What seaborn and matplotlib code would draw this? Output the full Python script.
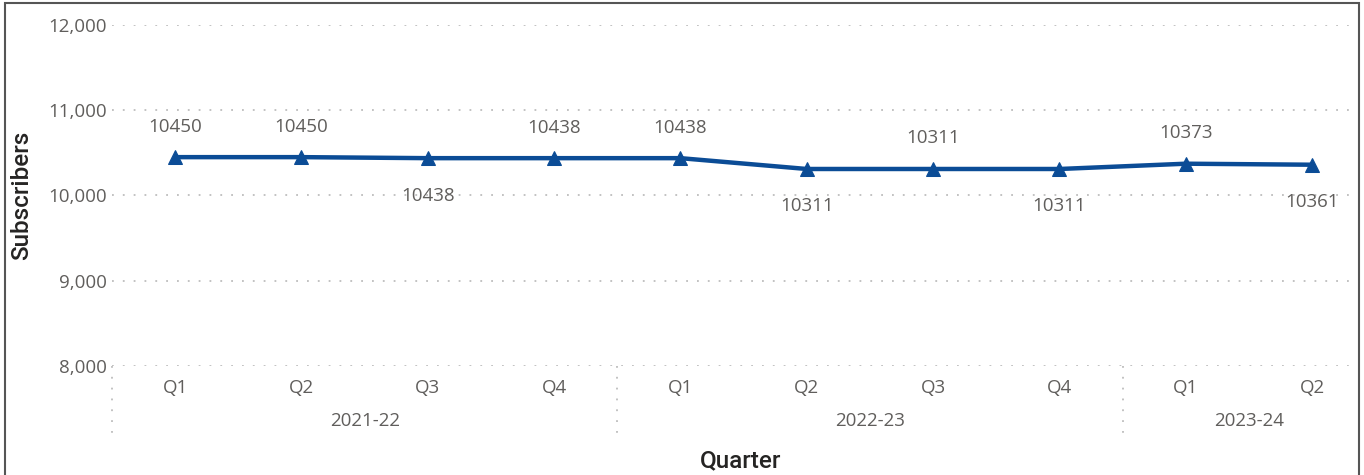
import matplotlib
matplotlib.use("Agg")
import matplotlib.pyplot as plt
import matplotlib.transforms as mtransforms
from matplotlib.patches import Rectangle
from matplotlib.ticker import FuncFormatter
import seaborn as sns
import pandas as pd

# ---- data ----
quarters = ["Q1", "Q2", "Q3", "Q4", "Q1", "Q2", "Q3", "Q4", "Q1", "Q2"]
fiscal_years = ["2021-22"] * 4 + ["2022-23"] * 4 + ["2023-24"] * 2
subscribers = [10450, 10450, 10438, 10438, 10438, 10311, 10311, 10311, 10373, 10361]
label_side = ["above", "above", "below", "above", "above", "below", "above", "below", "above", "below"]
year_labels = ["2021-22", "2022-23", "2023-24"]
y_ticks = [8000, 9000, 10000, 11000, 12000]

df = pd.DataFrame({"pos": range(len(quarters)), "quarter": quarters,
                   "year": fiscal_years, "subs": subscribers})

sns.set_theme(style="white")
plt.rcParams["font.family"] = ["Open Sans", "DejaVu Sans"]

W, H = 1364, 475
fig = plt.figure(figsize=(W / 100, H / 100), dpi=100)
L, R, T, B = 112, 1350, 25, 366
ax = fig.add_axes([L / W, 1 - B / H, (R - L) / W, (B - T) / H])

line_color = "#0B4C96"
text_gray = "#605E5C"
title_col = "#252423"
grid_col = "#BDBDBD"
fs = 13.5

sns.lineplot(data=df, x="pos", y="subs", ax=ax, color=line_color, linewidth=3.2,
             marker="^", markersize=10, markeredgecolor=line_color, zorder=5)

ax.set_ylim(8000, 12000)
ax.set_xlim(-0.5, 9.3)
ax.set_yticks(y_ticks)
ax.yaxis.set_major_formatter(FuncFormatter(lambda v, p: f"{int(v):,}"))
ax.set_xticks(df["pos"])
ax.set_xticklabels(quarters)
ax.tick_params(axis="both", length=0, labelsize=fs, labelcolor=text_gray)
ax.tick_params(axis="x", pad=9)
ax.tick_params(axis="y", pad=4)
for s in ax.spines.values():
    s.set_visible(False)
ax.grid(False)
for yv in y_ticks:
    ax.axhline(yv, color=grid_col, linewidth=1.3, linestyle=(0, (1, 5)), zorder=1)
ax.set_xlabel("")
ax.set_ylabel("")

# data labels
for xv, yv, side in zip(df["pos"], df["subs"], label_side):
    off = 22 if side == "above" else -27
    ax.annotate(f"{yv}", (xv, yv), xytext=(0, off), textcoords="offset points",
                ha="center", va="center", fontsize=fs, color=text_gray)

# hierarchical x axis: separators and year labels
trans = mtransforms.blended_transform_factory(ax.transData, ax.transAxes)
bounds = [-0.5]
for i in range(1, len(fiscal_years)):
    if fiscal_years[i] != fiscal_years[i - 1]:
        bounds.append(i - 0.5)
for bx in bounds:
    ax.plot([bx, bx], [0, -0.22], transform=trans, clip_on=False,
            color=grid_col, linewidth=1.3, linestyle=(0, (1, 5)))
for yl in year_labels:
    idx = [i for i, f in enumerate(fiscal_years) if f == yl]
    cx = (idx[0] + idx[-1]) / 2
    ax.text(cx, -0.16, yl, transform=trans, ha="center", va="center",
            fontsize=fs, color=text_gray)

# axis titles
fig.text(741 / W, 1 - 461 / H, "Quarter", ha="center", va="center",
         fontsize=17.5, color=title_col, family=["Roboto", "DejaVu Sans"], fontweight="medium")
fig.text(22 / W, 1 - 195 / H, "Subscribers", ha="center", va="center", rotation=90,
         fontsize=17.5, color=title_col, family=["Roboto", "DejaVu Sans"], fontweight="medium")

# outer border
fig.add_artist(Rectangle((5 / W, -0.05), (1359 - 5) / W, 1.05 - 3 / H,
                         transform=fig.transFigure, fill=False,
                         edgecolor="#555555", linewidth=1.5))

fig.savefig("out.png", dpi=100)
